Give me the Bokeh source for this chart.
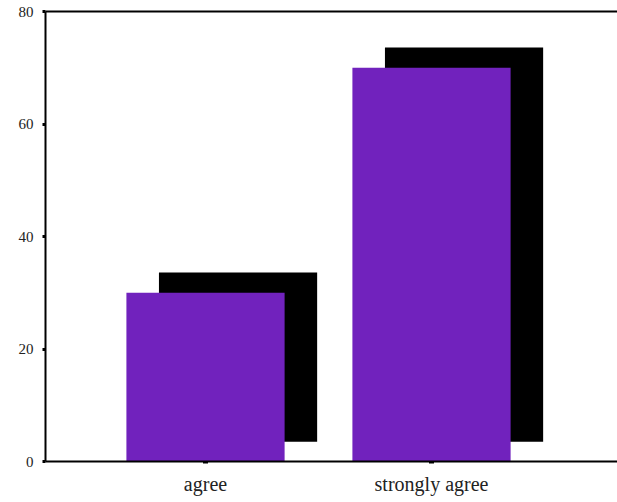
from bokeh.plotting import figure
from bokeh.models import ColumnDataSource, Range1d, FixedTicker, LinearAxis
from bokeh.transform import dodge
from bokeh.embed import file_html
from bokeh.resources import INLINE

categories = ["agree", "strongly agree"]
values = [30, 70]
y_ticks = [0, 20, 40, 60, 80]

positions = list(range(len(categories)))
source = ColumnDataSource(dict(x=positions, value=values, label=categories))

p = figure(width=617, height=500, output_backend="svg", toolbar_location=None,
           x_range=Range1d(-0.708, 1.823), y_range=Range1d(0, 80),
           min_border_left=45, min_border_right=0, min_border_top=11,
           min_border_bottom=39, background_fill_color="white",
           border_fill_color="white")
p.outline_line_color = None
p.xgrid.visible = False
p.ygrid.visible = False

# shadow bars
p.vbar(x=dodge("x", 0.144), top=dodge("value", 3.6), bottom=3.5, width=0.7,
       fill_color="black", line_color=None, source=source)
# main bars
p.vbar(x="x", top="value", bottom=0, width=0.7,
       fill_color="#7122BD", line_color=None, source=source)

font = "Liberation Serif"

xa = p.xaxis[0]
xa.ticker = FixedTicker(ticks=positions)
xa.major_label_overrides = {i: c for i, c in enumerate(categories)}
xa.axis_line_width = 2
xa.axis_line_color = "black"
xa.major_tick_in = 0
xa.major_tick_out = 2
xa.major_tick_line_width = 5
xa.minor_tick_line_color = None
xa.major_label_standoff = 9
xa.major_label_text_font = font
xa.major_label_text_font_size = "20px"
xa.major_label_text_color = "#222222"

ya = p.yaxis[0]
ya.ticker = FixedTicker(ticks=y_ticks)
ya.axis_line_width = 2
ya.axis_line_color = "black"
ya.major_tick_in = 0
ya.major_tick_out = 3
ya.major_tick_line_width = 3
ya.minor_tick_line_color = None
ya.major_label_standoff = 9
ya.major_label_text_font = font
ya.major_label_text_font_size = "15px"
ya.major_label_text_color = "#222222"

top = LinearAxis(ticker=FixedTicker(ticks=[]), axis_line_width=2,
                 axis_line_color="black", major_tick_in=0, major_tick_out=0,
                 major_tick_line_color=None, minor_tick_line_color=None,
                 minor_tick_out=0, minor_tick_in=0,
                 major_label_text_font_size="0px", major_label_standoff=0)
p.add_layout(top, "above")

open("out.html", "w").write(file_html(p, INLINE))
